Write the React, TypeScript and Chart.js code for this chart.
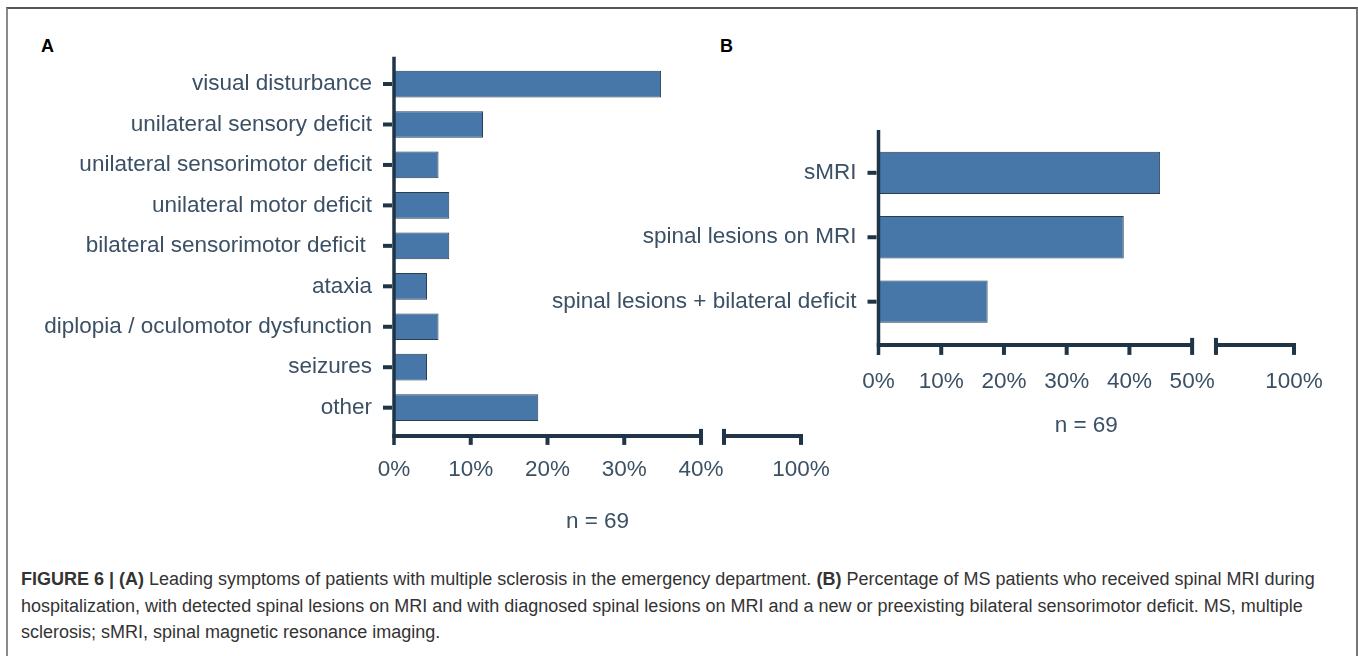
import React, { useEffect, useRef } from 'react';
import { Chart, registerables } from 'chart.js';

Chart.register(...registerables);

// ---- data ----
const symptomLabels = [
  'visual disturbance',
  'unilateral sensory deficit',
  'unilateral sensorimotor deficit',
  'unilateral motor deficit',
  'bilateral sensorimotor deficit ',
  'ataxia',
  'diplopia / oculomotor dysfunction',
  'seizures',
  'other',
];
const symptomPercent = [34.8, 11.6, 5.8, 7.2, 7.2, 4.3, 5.8, 4.3, 18.8];
const symptomTicks = [0, 10, 20, 30, 40];

const mriLabels = ['sMRI', 'spinal lesions on MRI', 'spinal lesions + bilateral deficit'];
const mriPercent = [44.9, 39.1, 17.4];
const mriTicks = [0, 10, 20, 30, 40, 50];

const axisEndLabel = '100%';
const sampleLabel = 'n = 69';

// ---- style ----
const FONT = '"Liberation Sans", Arial, Helvetica, sans-serif';
const TEXT = '#3b5064';
const AXIS = '#1f3447';
const BAR = '#4677a8';
const BAR_EDGE = '#2b3d50';

const brokenAxis = {
  id: 'brokenAxis',
  afterDatasetsDraw(chart: any, _a: any, o: any) {
    const { ctx, chartArea, scales } = chart;
    const x = scales.x;
    const y = scales.y;
    const x0 = x.getPixelForValue(0);
    const axisY = chartArea.bottom + o.below;
    const top = chartArea.top - o.above;
    const seg = (x1: number, y1: number, x2: number, y2: number, w = 4) => {
      ctx.lineWidth = w;
      ctx.beginPath();
      ctx.moveTo(x1, y1);
      ctx.lineTo(x2, y2);
      ctx.stroke();
    };
    ctx.save();
    ctx.strokeStyle = AXIS;
    ctx.lineCap = 'butt';
    seg(x0, top, x0, axisY + o.tick, 3.5);
    for (let i = 0; i < y.ticks.length; i++) {
      const py = y.getPixelForTick(i);
      seg(x0 - 11, py, x0 - 2, py, 4);
    }
    const xb = x.getPixelForValue(o.breakAt);
    seg(x0 - 1.75, axisY, xb, axisY, 4);
    o.ticks.forEach((v: number) => {
      if (v > 0 && v < o.breakAt) {
        const px = x.getPixelForValue(v);
        seg(px, axisY, px, axisY + o.tick, 4);
      }
    });
    seg(xb, axisY - o.cap, xb, axisY + o.tick, 4);
    const xr = x.getPixelForValue(o.resumeAt);
    const xe = x.getPixelForValue(o.endAt);
    seg(xr, axisY - o.cap, xr, axisY + o.tick, 4);
    seg(xr, axisY, xe + 2, axisY, 4);
    seg(xe, axisY, xe, axisY + o.tick, 4);
    ctx.restore();
  },
};

type PanelProps = {
  labels: string[];
  values: number[];
  ticks: number[];
  resumeAt: number;
  endAt: number;
  left: number;
  width: number;
  height: number;
  areaLeft: number;
  areaTop: number;
  areaBottom: number;
  padRight: number;
  tickPad: number;
  titlePad: number;
  above: number;
  below: number;
  tick: number;
  barFrac: number;
};

function BarPanel(p: PanelProps) {
  const ref = useRef<HTMLCanvasElement | null>(null);
  useEffect(() => {
    if (!ref.current) return;
    const font = { family: FONT, size: 22.5 };
    const breakAt = p.ticks[p.ticks.length - 1];
    const chart = new Chart(ref.current, {
      type: 'bar',
      data: {
        labels: p.labels,
        datasets: [
          {
            data: p.values,
            backgroundColor: BAR,
            borderColor: BAR_EDGE,
            borderWidth: 1,
            borderSkipped: false,
            barPercentage: p.barFrac,
            categoryPercentage: 1,
          },
        ],
      },
      options: {
        indexAxis: 'y',
        responsive: false,
        animation: false,
        layout: { padding: { top: p.areaTop, right: p.padRight, left: 0, bottom: 0 } },
        plugins: {
          legend: { display: false },
          tooltip: { enabled: false },
          brokenAxis: {
            breakAt,
            resumeAt: p.resumeAt,
            endAt: p.endAt,
            ticks: p.ticks,
            above: p.above,
            below: p.below,
            tick: p.tick,
            cap: 7,
          },
        } as any,
        scales: {
          x: {
            type: 'linear',
            min: 0,
            max: p.endAt,
            grid: { display: false },
            border: { display: false },
            afterBuildTicks: (s: any) => {
              s.ticks = [...p.ticks, p.endAt].map((v) => ({ value: v }));
            },
            afterFit: (s: any) => {
              s.height = p.height - p.areaBottom;
            },
            ticks: {
              autoSkip: false,
              maxRotation: 0,
              padding: p.tickPad,
              font,
              color: TEXT,
              callback: (v: any) => (Number(v) >= p.endAt - 0.001 ? axisEndLabel : `${v}%`),
            },
            title: {
              display: true,
              text: sampleLabel,
              font,
              color: TEXT,
              padding: { top: 0, bottom: p.titlePad },
            },
          },
          y: {
            grid: { display: false },
            border: { display: false },
            afterFit: (s: any) => {
              s.width = p.areaLeft - p.left;
            },
            ticks: { autoSkip: false, padding: 14, font, color: TEXT },
          },
        },
      },
      plugins: [brokenAxis],
    } as any);
    return () => chart.destroy();
  }, []);
  return (
    <canvas
      ref={ref}
      width={p.width}
      height={p.height}
      style={{ position: 'absolute', left: p.left, top: 0, width: p.width, height: p.height }}
    />
  );
}

export default function App() {
  return (
    <div
      style={{
        position: 'absolute',
        left: 0,
        top: 0,
        width: 1358,
        height: 656,
        overflow: 'hidden',
        background: '#fff',
        fontFamily: FONT,
      }}
    >
      <div
        style={{
          position: 'absolute',
          left: 6,
          top: 7,
          width: 1348,
          height: 700,
          borderTop: '2px solid #555',
          borderLeft: '2px solid #8a8a8a',
          borderRight: '2px solid #777',
        }}
      />
      <div style={{ position: 'absolute', left: 41, top: 36, fontSize: 18, fontWeight: 'bold', color: '#000' }}>A</div>
      <div style={{ position: 'absolute', left: 720, top: 36, fontSize: 18, fontWeight: 'bold', color: '#000' }}>B</div>
      <BarPanel
        labels={symptomLabels}
        values={symptomPercent}
        ticks={symptomTicks}
        resumeAt={43}
        endAt={53.03}
        left={0}
        width={860}
        height={560}
        areaLeft={394}
        areaTop={63.8}
        areaBottom={427.9}
        padRight={59}
        tickPad={20.5}
        titlePad={24.5}
        above={7}
        below={8}
        tick={9}
        barFrac={0.66}
      />
      <BarPanel
        labels={mriLabels}
        values={mriPercent}
        ticks={mriTicks}
        resumeAt={53.8}
        endAt={66.24}
        left={500}
        width={858}
        height={460}
        areaLeft={878.5}
        areaTop={140.6}
        areaBottom={333.9}
        padRight={64}
        tickPad={26}
        titlePad={21}
        above={10.6}
        below={11}
        tick={10}
        barFrac={0.656}
      />
      <div
        style={{
          position: 'absolute',
          left: 21,
          top: 566,
          fontSize: 18,
          lineHeight: '26.5px',
          color: '#333',
          whiteSpace: 'nowrap',
        }}
      >
        <b>FIGURE 6 | (A)</b> Leading symptoms of patients with multiple sclerosis in the emergency department.{' '}
        <b>(B)</b> Percentage of MS patients who received spinal MRI during
        <br />
        hospitalization, with detected spinal lesions on MRI and with diagnosed spinal lesions on MRI and a new or
        preexisting bilateral sensorimotor deficit. MS, multiple
        <br />
        sclerosis; sMRI, spinal magnetic resonance imaging.
      </div>
    </div>
  );
}
